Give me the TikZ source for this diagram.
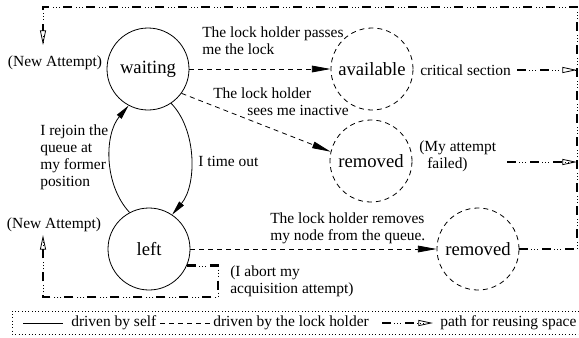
\documentclass[tikz,border=0pt]{standalone}
\usepackage{fontspec}
\setmainfont{Liberation Serif}
\usetikzlibrary{arrows.meta}
\begin{document}
\begin{tikzpicture}[x=0.75pt,y=-0.75pt,
  lbl/.style={font=\fontsize{11.6}{12.75}\selectfont, inner sep=0pt, align=left},
  selfstate/.style={circle, draw, line width=0.6pt, minimum size=61.5pt, inner sep=0pt, font=\fontsize{14}{16}\selectfont},
  lockstate/.style={selfstate, dash pattern=on 3.75pt off 3pt},
  selfarrow/.style={line width=0.6pt, -{Triangle[length=11pt,width=4.5pt]}},
  lockline/.style={line width=0.6pt, dash pattern=on 3.75pt off 3pt},
  lockarrow/.style={lockline, -{Triangle[length=14pt,width=5pt]}},
  reuse/.style={line width=2.1pt, dash pattern=on 6.75pt off 10.5pt,
    preaction={draw, -, line width=0.5pt, dash pattern=on 0.75pt off 1.5pt on 0.75pt off 1.5pt on 0.75pt off 12pt, dash phase=8.25pt}},
  reusearrow/.style={reuse, -{Triangle[open, line width=0.6pt, length=11pt, width=4.5pt]}}
]
\useasboundingbox (0,0) rectangle (579,337);

% states
\node[selfstate] (waiting) at (148,69) {waiting};
\node[selfstate] (leftst) at (149,249) {left};
\node[lockstate] (avail) at (372,69) {available};
\node[lockstate] (rem1) at (371,161) {removed};
\node[lockstate] (rem2) at (478,249) {removed};

% labels
\node[lbl, anchor=west] (passes) at (202,40.5) {The lock holder passes\\me the lock};
\node[lbl, anchor=west] (inactive) at (213,102) {The lock holder\\\hspace*{25.5pt}sees me inactive};
\node[lbl, anchor=west] (timeout) at (198,161) {I time out};
\node[lbl, anchor=west] (rejoin) at (40,157.5) {I rejoin the\\queue at\\my former\\position};
\node[lbl] (new1) at (55,63) {(New Attempt)};
\node[lbl] (new2) at (54,225) {(New Attempt)};
\node[lbl, anchor=west] (removes) at (270,228.5) {The lock holder removes\\my node from the queue.};
\node[lbl, anchor=west] (abort) at (230,281) {(I abort my\\acquisition attempt)};
\node[lbl, anchor=west] (failed) at (419,156.5) {(My attempt\\\hspace*{6pt}failed)};
\node[lbl, anchor=west] (crit) at (420,70) {critical section};

% coordinates of the reuse paths
\coordinate (rt) at (577,7);
\coordinate (lt) at (43,7);
\coordinate (na1) at (43,45);
\coordinate (b2) at (218,297);
\coordinate (b3) at (43,297);
\coordinate (na2) at (43,235);
\coordinate (fs) at (507,162);
\coordinate (cs) at (517,70);

% self-driven transitions
\draw[selfarrow] (waiting.-56) .. controls (197,130) and (197,185) .. (leftst.56);
\draw[selfarrow] (leftst.118) .. controls (104,185) and (104,135) .. (waiting.-118);

% lock-holder-driven transitions
\draw[lockarrow] (waiting) -- (avail);
\draw[lockarrow] (waiting.-36) -- (rem1.167);
\draw[lockarrow] (leftst) -- (rem2);

% reuse paths
\draw[reusearrow] (rem2.east) -- (rem2.east -| rt) -- (rt) -- (lt) -- (na1);
\draw[reusearrow] (cs) -- (cs -| rt);
\draw[reusearrow] (fs) -- (fs -| rt);
\draw[reusearrow] (leftst.-24) -- (leftst.-24 -| b2) -- (b2) -- (b3) -- (na2);

% legend
\draw[dotted, line width=0.5pt] (579,311) -- (12,311) -- (12,334) -- (579,334);
\coordinate (s1) at (23,323);
\coordinate (s2) at (63,323);
\coordinate (d1) at (160,323);
\coordinate (d2) at (210,323);
\coordinate (r1) at (382,323);
\coordinate (r2) at (433,323);
\draw[line width=0.6pt] (s1) -- (s2);
\node[lbl, anchor=west] (leg1) at (71,323) {driven by self};
\draw[lockline] (d1) -- (d2);
\node[lbl, anchor=west] (leg2) at (213,323) {driven by the lock holder};
\draw[reusearrow] (r1) -- (r2);
\node[lbl, anchor=west] (leg3) at (440,323) {path for reusing space};
\end{tikzpicture}
\end{document}
